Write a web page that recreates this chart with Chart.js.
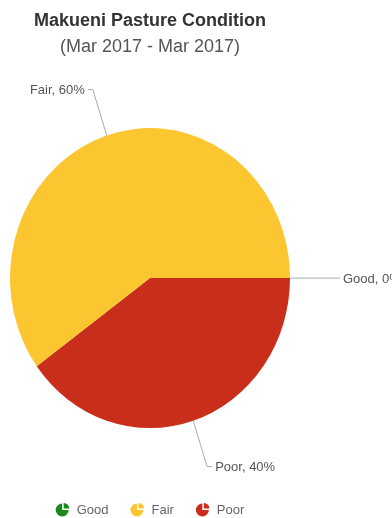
<!DOCTYPE html>
<html>
<head>
<meta charset="utf-8">
<title>Makueni Pasture Condition</title>
<script src="https://cdn.jsdelivr.net/npm/chart.js@4/dist/chart.umd.min.js"></script>
<style>
  html, body { margin: 0; padding: 0; background: #fff; }
  #wrap { width: 392px; height: 518px; }
</style>
</head>
<body>
<div id="wrap"><canvas id="pastureChart" width="392" height="518"></canvas></div>
<script>
const categories = ['Good', 'Fair', 'Poor'];
const shares = [0, 60, 40];
const sliceColors = ['#1b8a1b', '#fcc630', '#c92e1b'];

const FONT = '"Liberation Sans", Arial, sans-serif';
const STRETCH_Y = 150 / 140;   // pie is drawn slightly taller than wide

// slices run clockwise from 3 o'clock, so feed them in reverse
const order = [2, 1, 0];
const pieLabels = order.map(i => categories[i]);
const pieValues = order.map(i => shares[i]);
const pieColors = order.map(i => sliceColors[i]);

const stretchPie = {
    id: 'stretchPie',
    beforeDatasetsDraw(chart) {
        const arc = chart.getDatasetMeta(0).data[0];
        const ctx = chart.ctx;
        ctx.save();
        ctx.translate(arc.x, arc.y);
        ctx.scale(1, STRETCH_Y);
        ctx.translate(-arc.x, -arc.y);
    },
    afterDatasetsDraw(chart) {
        chart.ctx.restore();
    }
};

const sliceLabels = {
    id: 'sliceLabels',
    afterDatasetsDraw(chart) {
        const ctx = chart.ctx;
        const meta = chart.getDatasetMeta(0);
        const dist = 45;
        ctx.save();
        ctx.font = '13px ' + FONT;
        ctx.textBaseline = 'middle';
        meta.data.forEach((arc, i) => {
            const p = arc.getProps(['x', 'y', 'startAngle', 'endAngle', 'outerRadius'], true);
            const mid = (p.startAngle + p.endAngle) / 2;
            const c = Math.cos(mid), s = Math.sin(mid);
            const edgeX = p.x + p.outerRadius * c;
            const edgeY = p.y + p.outerRadius * STRETCH_Y * s;
            const bendX = p.x + (p.outerRadius + dist) * c;
            const bendY = p.y + (p.outerRadius + dist) * STRETCH_Y * s;
            const right = c >= -0.0001;
            const endX = bendX + (right ? 5 : -5);

            ctx.strokeStyle = '#a3abb5';
            ctx.lineWidth = 1;
            ctx.beginPath();
            ctx.moveTo(edgeX, edgeY);
            ctx.lineTo(bendX, bendY);
            ctx.lineTo(endX, bendY);
            ctx.stroke();

            ctx.fillStyle = '#555';
            ctx.textAlign = right ? 'left' : 'right';
            const text = chart.data.labels[i] + ', ' + chart.data.datasets[0].data[i] + '%';
            ctx.fillText(text, endX + (right ? 3 : -3), bendY + 1);
        });
        ctx.restore();
    }
};

// small pie glyph used as the legend marker
function drawPieIcon(ctx, cx, cy, r, color) {
    ctx.fillStyle = color;
    ctx.beginPath();
    ctx.moveTo(cx, cy);
    ctx.arc(cx, cy, r, 0, Math.PI * 1.5);
    ctx.closePath();
    ctx.fill();
    const ox = cx + 1.5, oy = cy - 1.5;
    ctx.beginPath();
    ctx.moveTo(ox, oy);
    ctx.arc(ox, oy, r - 1, Math.PI * 1.5, Math.PI * 2);
    ctx.closePath();
    ctx.fill();
}

const pieLegend = {
    id: 'pieLegend',
    afterDraw(chart) {
        const ctx = chart.ctx;
        const area = chart.chartArea;
        const textOffset = 21, spacing = 22;
        ctx.save();
        ctx.font = '13px ' + FONT;
        ctx.textBaseline = 'middle';
        ctx.textAlign = 'left';
        const widths = categories.map(c => textOffset + ctx.measureText(c).width);
        const total = widths.reduce((a, b) => a + b, 0) + spacing * (categories.length - 1);
        let x = (area.left + area.right) / 2 - total / 2;
        const y = 510;
        categories.forEach((c, i) => {
            drawPieIcon(ctx, x + 6.5, y, 6.5, sliceColors[i]);
            ctx.fillStyle = '#666';
            ctx.fillText(c, x + textOffset, y + 0.5);
            x += widths[i] + spacing;
        });
        ctx.restore();
    }
};

new Chart(document.getElementById('pastureChart'), {
    type: 'pie',
    data: {
        labels: pieLabels,
        datasets: [{
            data: pieValues,
            backgroundColor: pieColors,
            borderWidth: 0
        }]
    },
    options: {
        responsive: false,
        animation: false,
        devicePixelRatio: 1,
        rotation: 90,
        layout: {
            padding: { left: 10, right: 102, top: 0, bottom: 20 }
        },
        plugins: {
            legend: { display: false },
            tooltip: { enabled: false },
            title: {
                display: true,
                fullSize: false,
                text: 'Makueni Pasture Condition',
                color: '#333',
                font: { family: FONT, size: 18, weight: 'bold' },
                padding: { top: 10, bottom: 0 }
            },
            subtitle: {
                display: true,
                fullSize: false,
                text: '(Mar 2017 - Mar 2017)',
                color: '#555',
                font: { family: FONT, size: 18 },
                padding: { top: 5, bottom: 0 }
            }
        }
    },
    plugins: [stretchPie, sliceLabels, pieLegend]
});
</script>
</body>
</html>
